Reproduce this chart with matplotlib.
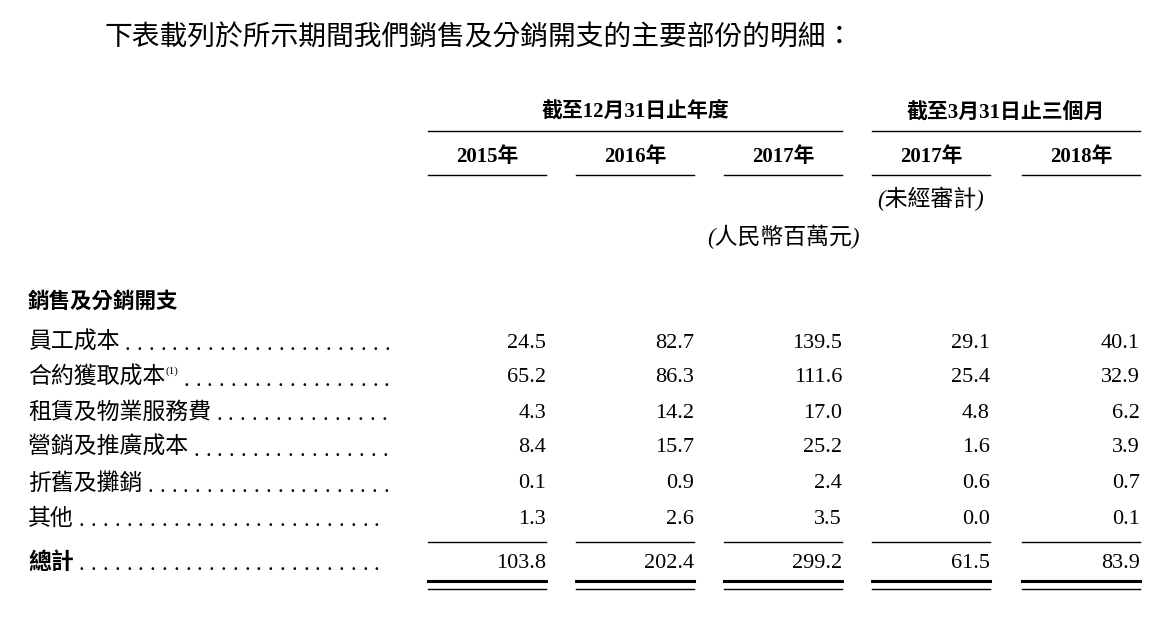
import matplotlib
matplotlib.use("Agg")
import matplotlib.pyplot as plt
from matplotlib.lines import Line2D

plt.rcParams['font.family'] = ['Liberation Serif', 'Noto Sans CJK TC', 'DejaVu Sans']

title = "下表載列於所示期間我們銷售及分銷開支的主要部份的明細："
group_headers = ["截至12月31日止年度", "截至3月31日止三個月"]
years = ["2015年", "2016年", "2017年", "2017年", "2018年"]
section = "銷售及分銷開支"
categories = ["員工成本", "合約獲取成本", "租賃及物業服務費", "營銷及推廣成本", "折舊及攤銷", "其他"]
notes = ["", "(1)", "", "", "", ""]
values = [
    [24.5, 82.7, 139.5, 29.1, 40.1],
    [65.2, 86.3, 111.6, 25.4, 32.9],
    [4.3, 14.2, 17.0, 4.8, 6.2],
    [8.4, 15.7, 25.2, 1.6, 3.9],
    [0.1, 0.9, 2.4, 0.6, 0.7],
    [1.3, 2.6, 3.5, 0.0, 0.1],
]
total_label = "總計"
totals = [103.8, 202.4, 299.2, 61.5, 83.9]

W, H = 1172, 620
fig = plt.figure(figsize=(W/100, H/100), dpi=100)
fig.patch.set_facecolor('white')

def tx(x, y, s, **kw):
    return fig.text(x/W, 1 - y/H, s, **kw)

def hline(x0, x1, y, lw=1.0):
    fig.add_artist(Line2D([x0/W, x1/W], [1-y/H, 1-y/H], color='black', lw=lw))

FS = 16.5
NFS = 16
cols = [(428, 546), (576, 694), (724, 842), (872, 990), (1022, 1140)]

tx(104, 38, title, fontsize=20, va='center', ha='left')
tx((428+842)/2, 113, group_headers[0], fontsize=15, fontweight='bold', ha='center', va='center')
tx((872+1140)/2, 113, group_headers[1], fontsize=15, fontweight='bold', ha='center', va='center')
hline(428, 842, 131)
hline(872, 1140, 131)
for (a, b), yv in zip(cols, years):
    tx((a+b)/2, 157, yv, fontsize=15, fontweight='bold', ha='center', va='center')
    hline(a, b, 175)
tx(931, 199, "(未經審計)", fontsize=FS, style='italic', ha='center', va='center')
tx(783, 237, "(人民幣百萬元)", fontsize=FS, style='italic', ha='center', va='center')
tx(28, 302, section, fontsize=15.5, fontweight='bold', ha='left', va='center')

renderer = fig.canvas.get_renderer()

def label_with_dots(y, label, note, bold=False):
    t = tx(28, y, label, fontsize=FS, fontweight='bold' if bold else 'normal', ha='left', va='center')
    x_end = t.get_window_extent(renderer).x1
    if note:
        n = fig.text(x_end/W, 1-(y-7)/H, note, fontsize=8, ha='left', va='center')
        x_end = n.get_window_extent(renderer).x1
    x = x_end + 8
    while x < 388:
        fig.text(x/W, 1-(y+3)/H, ".", fontsize=NFS, ha='center', va='center')
        x += 11.8

row_y = [343, 378, 413, 448, 484, 519]
for y, lab, nt, vals in zip(row_y, categories, notes, values):
    label_with_dots(y, lab, nt)
    for (a, b), v in zip(cols, vals):
        tx(b, y, f"{v:.1f}", fontsize=NFS, ha='right', va='center')
for (a, b) in cols:
    hline(a, b, 542)
label_with_dots(563, total_label, "", bold=True)
for (a, b), v in zip(cols, totals):
    tx(b, 563, f"{v:.1f}", fontsize=NFS, ha='right', va='center')
    hline(a, b, 581, lw=2.2)
    hline(a, b, 589, lw=1.0)

fig.savefig("out.png", dpi=100)
